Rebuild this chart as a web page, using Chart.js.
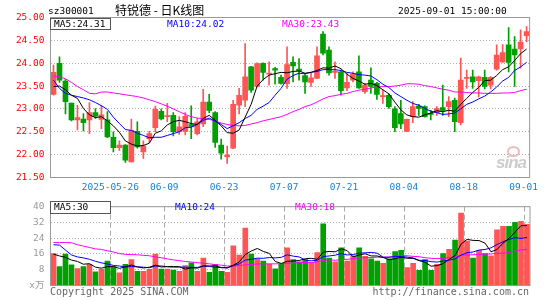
<!DOCTYPE html>
<html>
<head>
<meta charset="utf-8">
<script src="https://cdn.jsdelivr.net/npm/chart.js@4.4.1/dist/chart.umd.min.js"></script>
<style>
body { margin: 0; background: #fff; }
#wrap { position: relative; width: 545px; height: 300px; overflow: hidden; font-family: 'DejaVu Sans Mono', monospace; font-size: 9.5px; }
#wrap canvas { position: absolute; left: 0; }
.t { position: absolute; white-space: pre; line-height: 12px; }
.box { position: absolute; left: 50px; width: 61px; background: #fff; border: 1px solid #555; box-sizing: border-box; }
</style>
</head>
<body>
<div id="wrap">
    <canvas id="kline" width="545" height="200" style="top:0"></canvas>
    <canvas id="vol" width="545" height="105" style="top:195px"></canvas>

    <div class="t" style="left:48px;top:5px">sz300001</div>
    <div class="t" style="left:115px;top:3px;font-family:'Noto Sans CJK SC';font-size:12px;line-height:13px">特锐德 - 日K线图</div>
    <div class="t" style="left:398px;top:5px">2025-09-01 15:00:00</div>

    <div class="box" style="top:18px;height:12px"></div>
    <div class="t" style="left:54px;top:18px">MA5:24.31</div>
    <div class="t" style="left:167px;top:18px;color:#0000ff">MA10:24.02</div>
    <div class="t" style="left:282px;top:18px;color:#ff00ff">MA30:23.43</div>

    <div class="box" style="top:201px;height:13px"></div>
    <div class="t" style="left:54px;top:201px">MA5:30</div>
    <div class="t" style="left:175px;top:201px;color:#0000ff">MA10:24</div>
    <div class="t" style="left:295px;top:201px;color:#ff00ff">MA30:18</div>

    <div style="position:absolute;left:507px;top:146px;width:9px;height:7px;border:2px solid #ebbcbc;border-radius:50%"></div>
    <div class="t" style="left:496px;top:154px;font-family:'Liberation Sans';font-weight:bold;font-style:italic;font-size:17px;line-height:18px;color:#cccccc;letter-spacing:-1px">sina</div>

    <div class="t" style="left:50px;top:286px;font-size:10px;color:#666">Copyright 2025 SINA.COM</div>
    <div class="t" style="right:16px;top:286px;font-size:10px;color:#666">http://finance.sina.com.cn</div>
</div>
<script>
const dates = [
    '2025-05-12', '2025-05-13', '2025-05-14', '2025-05-15', '2025-05-16', '2025-05-19', '2025-05-20', '2025-05-21', '2025-05-22', '2025-05-23',
    '2025-05-26', '2025-05-27', '2025-05-28', '2025-05-29', '2025-05-30', '2025-06-03', '2025-06-04', '2025-06-05', '2025-06-06', '2025-06-09',
    '2025-06-10', '2025-06-11', '2025-06-12', '2025-06-13', '2025-06-16', '2025-06-17', '2025-06-18', '2025-06-19', '2025-06-20', '2025-06-23',
    '2025-06-24', '2025-06-25', '2025-06-26', '2025-06-27', '2025-06-30', '2025-07-01', '2025-07-02', '2025-07-03', '2025-07-04', '2025-07-07',
    '2025-07-08', '2025-07-09', '2025-07-10', '2025-07-11', '2025-07-14', '2025-07-15', '2025-07-16', '2025-07-17', '2025-07-18', '2025-07-21',
    '2025-07-22', '2025-07-23', '2025-07-24', '2025-07-25', '2025-07-28', '2025-07-29', '2025-07-30', '2025-07-31', '2025-08-01', '2025-08-04',
    '2025-08-05', '2025-08-06', '2025-08-07', '2025-08-08', '2025-08-11', '2025-08-12', '2025-08-13', '2025-08-14', '2025-08-15', '2025-08-18',
    '2025-08-19', '2025-08-20', '2025-08-21', '2025-08-22', '2025-08-25', '2025-08-26', '2025-08-27', '2025-08-28', '2025-08-29', '2025-09-01'
];

const tickDates = ['2025-05-26', '2025-06-09', '2025-06-23', '2025-07-07', '2025-07-21', '2025-08-04', '2025-08-18', '2025-09-01'];
const tickTexts = ['2025-05-26', '06-09', '06-23', '07-07', '07-21', '08-04', '08-18', '09-01'];

const opens = [
    23.32, 24.00, 23.61, 23.13, 22.76, 22.78, 22.76, 22.92, 22.77, 22.76,
    22.38, 22.15, 22.21, 21.84, 22.51, 22.06, 22.35, 22.59, 22.95, 22.83,
    22.86, 22.50, 22.51, 22.66, 22.46, 22.67, 23.15, 22.92, 22.21, 21.95,
    22.14, 23.08, 23.19, 23.92, 23.49, 24.00, 23.76, 23.88, 23.69, 23.55,
    24.02, 23.87, 23.73, 23.58, 23.67, 24.64, 24.29, 23.80, 23.81, 23.46,
    23.63, 23.81, 23.38, 23.63, 23.56, 23.27, 23.30, 23.00, 22.90, 22.51,
    22.83, 23.06, 23.05, 22.90, 22.92, 23.03, 23.05, 23.19, 22.70, 23.67,
    23.70, 23.62, 23.69, 23.52, 23.87, 24.03, 24.40, 24.31, 24.31, 24.60
];
const highs = [
    23.96, 24.14, 23.65, 23.13, 23.08, 22.90, 23.14, 23.01, 23.08, 22.94,
    22.50, 22.30, 22.22, 22.78, 22.72, 22.30, 22.51, 23.06, 23.00, 23.12,
    22.92, 22.83, 22.92, 23.07, 22.79, 23.43, 23.32, 22.94, 22.34, 22.19,
    23.19, 23.45, 24.43, 23.93, 24.01, 24.01, 24.03, 23.91, 23.74, 24.36,
    24.14, 24.10, 23.78, 23.78, 24.36, 24.69, 24.36, 24.03, 23.85, 23.78,
    23.81, 24.16, 23.56, 23.90, 23.58, 23.41, 23.33, 23.05, 23.19, 22.78,
    23.16, 23.10, 23.07, 22.97, 23.05, 23.52, 23.27, 23.24, 24.11, 23.85,
    23.85, 23.72, 23.85, 23.71, 24.40, 24.41, 24.78, 24.58, 24.73, 24.80
];
const lows = [
    23.30, 23.58, 22.89, 22.74, 22.54, 22.52, 22.46, 22.79, 22.57, 22.37,
    22.06, 22.09, 21.83, 21.84, 22.14, 21.92, 22.27, 22.50, 22.76, 22.72,
    22.41, 22.44, 22.43, 22.35, 22.43, 22.61, 22.92, 22.16, 21.90, 21.81,
    22.13, 22.89, 23.05, 23.36, 23.48, 23.63, 23.52, 23.54, 23.54, 23.45,
    23.59, 23.63, 23.34, 23.49, 23.66, 24.18, 23.74, 23.67, 23.30, 23.40,
    23.59, 23.45, 23.34, 23.34, 23.21, 23.12, 23.01, 22.50, 22.57, 22.50,
    22.70, 22.86, 22.82, 22.76, 22.86, 22.86, 22.83, 22.50, 22.65, 23.45,
    23.45, 23.26, 23.44, 23.44, 23.85, 24.02, 23.81, 23.49, 23.89, 24.47
];
const closes = [
    23.80, 23.63, 23.16, 22.76, 22.81, 22.70, 22.92, 22.84, 22.87, 22.39,
    22.15, 22.21, 21.88, 22.53, 22.17, 22.19, 22.46, 22.99, 22.78, 22.85,
    22.50, 22.61, 22.84, 22.62, 22.72, 23.15, 22.97, 22.27, 22.03, 21.99,
    23.10, 23.30, 23.70, 23.41, 23.99, 23.80, 23.78, 23.85, 23.56, 23.97,
    23.94, 23.83, 23.59, 23.68, 24.16, 24.22, 23.79, 23.83, 23.40, 23.58,
    23.76, 23.46, 23.52, 23.49, 23.32, 23.29, 23.05, 22.59, 22.67, 22.77,
    23.05, 23.01, 22.83, 22.88, 23.01, 22.97, 23.16, 22.72, 23.63, 23.69,
    23.59, 23.70, 23.49, 23.69, 24.18, 24.23, 24.02, 24.18, 24.46, 24.69
];

const ma5 = [
    23.49, 23.50, 23.42, 23.30, 23.23, 23.01, 22.87, 22.81, 22.83, 22.74,
    22.63, 22.49, 22.30, 22.23, 22.19, 22.20, 22.25, 22.47, 22.52, 22.65,
    22.72, 22.75, 22.72, 22.68, 22.66, 22.79, 22.86, 22.75, 22.63, 22.48,
    22.47, 22.54, 22.82, 23.10, 23.50, 23.64, 23.74, 23.77, 23.80, 23.79,
    23.82, 23.83, 23.78, 23.80, 23.84, 23.90, 23.89, 23.94, 23.88, 23.76,
    23.67, 23.61, 23.54, 23.56, 23.51, 23.42, 23.33, 23.15, 22.98, 22.87,
    22.83, 22.82, 22.87, 22.91, 22.96, 22.94, 22.97, 22.95, 23.10, 23.23,
    23.36, 23.47, 23.62, 23.63, 23.73, 23.86, 23.92, 24.06, 24.21, 24.31
];
const ma10 = [
    23.63, 23.45, 23.34, 23.30, 23.27, 23.24, 23.20, 23.14, 23.07, 22.99,
    22.82, 22.68, 22.55, 22.53, 22.47, 22.42, 22.37, 22.38, 22.38, 22.42,
    22.46, 22.50, 22.59, 22.60, 22.66, 22.75, 22.80, 22.73, 22.66, 22.57,
    22.63, 22.70, 22.79, 22.86, 22.99, 23.06, 23.14, 23.30, 23.45, 23.65,
    23.73, 23.78, 23.77, 23.80, 23.82, 23.86, 23.86, 23.86, 23.84, 23.80,
    23.78, 23.75, 23.74, 23.72, 23.64, 23.54, 23.47, 23.35, 23.27, 23.19,
    23.12, 23.08, 23.01, 22.95, 22.92, 22.88, 22.89, 22.91, 23.00, 23.10,
    23.15, 23.22, 23.28, 23.37, 23.48, 23.61, 23.69, 23.84, 23.92, 24.02
];
const ma30 = [
    23.72, 23.70, 23.66, 23.58, 23.49, 23.42, 23.34, 23.33, 23.37, 23.37,
    23.35, 23.33, 23.31, 23.29, 23.27, 23.24, 23.20, 23.16, 23.11, 23.06,
    23.00, 22.94, 22.88, 22.83, 22.80, 22.78, 22.77, 22.74, 22.69, 22.66,
    22.64, 22.63, 22.64, 22.67, 22.70, 22.74, 22.77, 22.80, 22.83, 22.88,
    22.94, 22.99, 23.05, 23.09, 23.15, 23.22, 23.27, 23.29, 23.32, 23.34,
    23.38, 23.41, 23.43, 23.46, 23.48, 23.49, 23.49, 23.50, 23.52, 23.55,
    23.55, 23.54, 23.51, 23.49, 23.46, 23.43, 23.41, 23.37, 23.37, 23.36,
    23.35, 23.35, 23.34, 23.34, 23.34, 23.35, 23.35, 23.36, 23.40, 23.43
];

// volume in 万 shares
const volumes = [
    16.2, 9.6, 15.9, 10.5, 8.6, 9.6, 10.7, 6.9, 8.3, 12.4,
    9.6, 6.4, 10.7, 13.1, 7.2, 7.2, 8.2, 15.9, 8.3, 8.3,
    7.8, 7.2, 10.1, 11.5, 7.2, 13.9, 6.7, 10.7, 7.2, 6.7,
    20.2, 15.4, 29.1, 15.9, 13.5, 12.4, 10.7, 8.5, 10.7, 19.1,
    13.2, 12.0, 13.1, 11.5, 16.7, 31.3, 13.9, 12.0, 19.1, 12.4,
    15.1, 19.1, 14.8, 13.5, 12.4, 11.2, 13.5, 17.2, 17.8, 9.1,
    11.2, 7.7, 13.1, 7.7, 10.7, 16.2, 18.3, 23.0, 36.8, 22.6,
    13.9, 17.8, 16.2, 15.1, 28.3, 30.0, 30.0, 32.1, 32.6, 31.0
];
const vma5 = [
    15.9, 15.0, 14.3, 12.9, 12.2, 10.8, 11.1, 9.3, 8.8, 9.6,
    9.6, 8.7, 9.5, 10.4, 9.4, 8.9, 9.3, 10.3, 9.4, 9.6,
    9.7, 9.5, 8.3, 9.0, 8.8, 10.0, 9.9, 10.0, 9.1, 9.0,
    10.3, 12.0, 15.7, 17.5, 18.8, 17.3, 16.3, 12.2, 11.2, 12.3,
    12.4, 12.7, 13.6, 13.8, 13.3, 16.9, 17.3, 17.1, 18.6, 17.7,
    14.5, 15.5, 16.1, 15.0, 15.0, 14.2, 13.1, 13.6, 14.4, 13.8,
    13.8, 12.6, 11.8, 9.8, 10.1, 11.1, 13.2, 15.2, 21.0, 23.4,
    22.9, 22.8, 21.5, 17.1, 18.3, 21.5, 23.9, 27.1, 30.4, 30.4
];
const vma10 = [
    20.7, 20.5, 18.0, 15.5, 14.5, 14.0, 13.3, 12.3, 11.5, 10.9,
    10.2, 9.9, 9.4, 9.6, 9.5, 9.3, 9.0, 9.9, 9.9, 9.5,
    9.3, 9.4, 9.3, 9.2, 9.2, 9.8, 9.7, 9.2, 9.1, 8.9,
    10.1, 11.0, 12.9, 13.3, 13.9, 13.8, 14.2, 14.0, 14.3, 15.6,
    14.9, 14.5, 12.9, 12.5, 12.8, 14.7, 15.0, 15.4, 16.2, 15.5,
    15.7, 16.4, 16.6, 16.8, 16.4, 14.4, 14.3, 14.8, 14.7, 14.4,
    14.0, 12.8, 12.7, 12.1, 11.9, 12.4, 12.9, 13.5, 15.4, 16.7,
    17.0, 18.0, 18.3, 19.1, 20.8, 22.2, 23.4, 24.3, 23.9, 24.4
];
const vma30 = [
    21.8, 21.8, 21.8, 21.7, 20.7, 20.0, 19.3, 18.6, 18.3, 17.6,
    17.0, 16.2, 15.8, 15.7, 15.6, 15.3, 15.1, 14.5, 14.1, 13.5,
    13.0, 12.6, 12.2, 11.9, 11.6, 11.3, 11.0, 10.6, 10.3, 9.9,
    9.9, 10.1, 10.5, 10.7, 10.9, 11.0, 11.0, 11.0, 11.1, 11.3,
    11.4, 11.6, 11.7, 11.6, 12.0, 12.8, 13.0, 12.8, 13.2, 13.3,
    13.6, 14.0, 14.1, 14.2, 14.4, 14.3, 14.5, 14.7, 15.1, 15.1,
    14.8, 14.6, 14.1, 13.8, 13.7, 13.8, 14.1, 14.6, 15.4, 15.5,
    15.6, 15.8, 15.9, 16.0, 16.4, 16.3, 16.9, 17.5, 18.0, 18.4
];

const upColor = '#ff5555';
const downColor = '#00a000';
const monoFont = { family: "'DejaVu Sans Mono', 'Noto Sans CJK SC'", size: 9.5 };

const candleColors = closes.map((close, i) => close >= opens[i] ? upColor : downColor);
const tickIndex = tickDates.map(d => dates.indexOf(d));

function dateGridColor(context) {
    return tickIndex.includes(context.index) ? '#aaaaaa' : 'rgba(0,0,0,0)';
}

function maLine(data, color) {
    return { type: 'line', data, borderColor: color, borderWidth: 1, pointRadius: 0, tension: 0, order: 0 };
}

// grey box round each plot area
const frame = {
    id: 'frame',
    afterDraw(chart) {
        const { ctx, chartArea: a } = chart;
        ctx.save();
        ctx.strokeStyle = '#999999';
        ctx.lineWidth = 1;
        ctx.strokeRect(a.left, a.top, a.right - a.left, a.bottom - a.top);
        ctx.restore();
    }
};

new Chart(document.getElementById('kline'), {
    type: 'bar',
    data: {
        labels: dates,
        datasets: [
            maLine(ma5, '#000000'),
            maLine(ma10, '#0000ff'),
            maLine(ma30, '#ff00ff'),
            {
                data: opens.map((open, i) => [open, closes[i]]),
                backgroundColor: candleColors,
                barThickness: 5,
                minBarLength: 1,
                grouped: false,
                order: 1
            },
            {
                data: lows.map((low, i) => [low, highs[i]]),
                backgroundColor: candleColors,
                barThickness: 1,
                grouped: false,
                order: 2
            }
        ]
    },
    options: {
        responsive: false,
        animation: false,
        devicePixelRatio: 1,
        layout: { padding: { left: 0, right: 15, top: 17.5, bottom: 0 } },
        plugins: { legend: { display: false }, tooltip: { enabled: false } },
        scales: {
            x: {
                offset: true,
                grid: { offset: true, color: dateGridColor, drawTicks: false },
                border: { display: false, dash: [5, 3] },
                ticks: {
                    autoSkip: false,
                    maxRotation: 0,
                    padding: 4,
                    labelOffset: -3,
                    color: '#1a80d0',
                    font: monoFont,
                    callback: (value, index) => {
                        const k = tickIndex.indexOf(index);
                        return k < 0 ? null : tickTexts[k];
                    }
                },
                afterFit: scale => { scale.height = 22.5; }
            },
            y: {
                min: 21.5,
                max: 25,
                grid: { color: '#b0b0b0', drawTicks: false },
                border: { display: false, dash: [1, 2] },
                ticks: { stepSize: 0.5, padding: 6, color: '#ff0000', font: monoFont, callback: value => value.toFixed(2) },
                afterFit: scale => { scale.width = 50.5; }
            }
        }
    },
    plugins: [frame]
});

new Chart(document.getElementById('vol'), {
    type: 'bar',
    data: {
        labels: dates,
        datasets: [
            maLine(vma5, '#000000'),
            maLine(vma10, '#0000ff'),
            maLine(vma30, '#ff00ff'),
            { data: volumes, backgroundColor: candleColors, barThickness: 5, order: 1 }
        ]
    },
    options: {
        responsive: false,
        animation: false,
        devicePixelRatio: 1,
        layout: { padding: { left: 0, right: 15, top: 6.5, bottom: 14.5 } },
        plugins: { legend: { display: false }, tooltip: { enabled: false } },
        scales: {
            x: {
                offset: true,
                grid: { offset: true, color: dateGridColor, drawTicks: false },
                border: { display: false, dash: [5, 3] },
                ticks: { display: false },
                afterFit: scale => { scale.height = 0; }
            },
            y: {
                min: 0,
                max: 40,
                grid: { color: '#b0b0b0', drawTicks: false },
                border: { display: false, dash: [1, 2] },
                ticks: { stepSize: 8, padding: 6, color: '#999999', font: monoFont, callback: value => value === 0 ? 'x万' : value },
                afterFit: scale => { scale.width = 50.5; }
            }
        }
    },
    plugins: [frame]
});
</script>
</body>
</html>
